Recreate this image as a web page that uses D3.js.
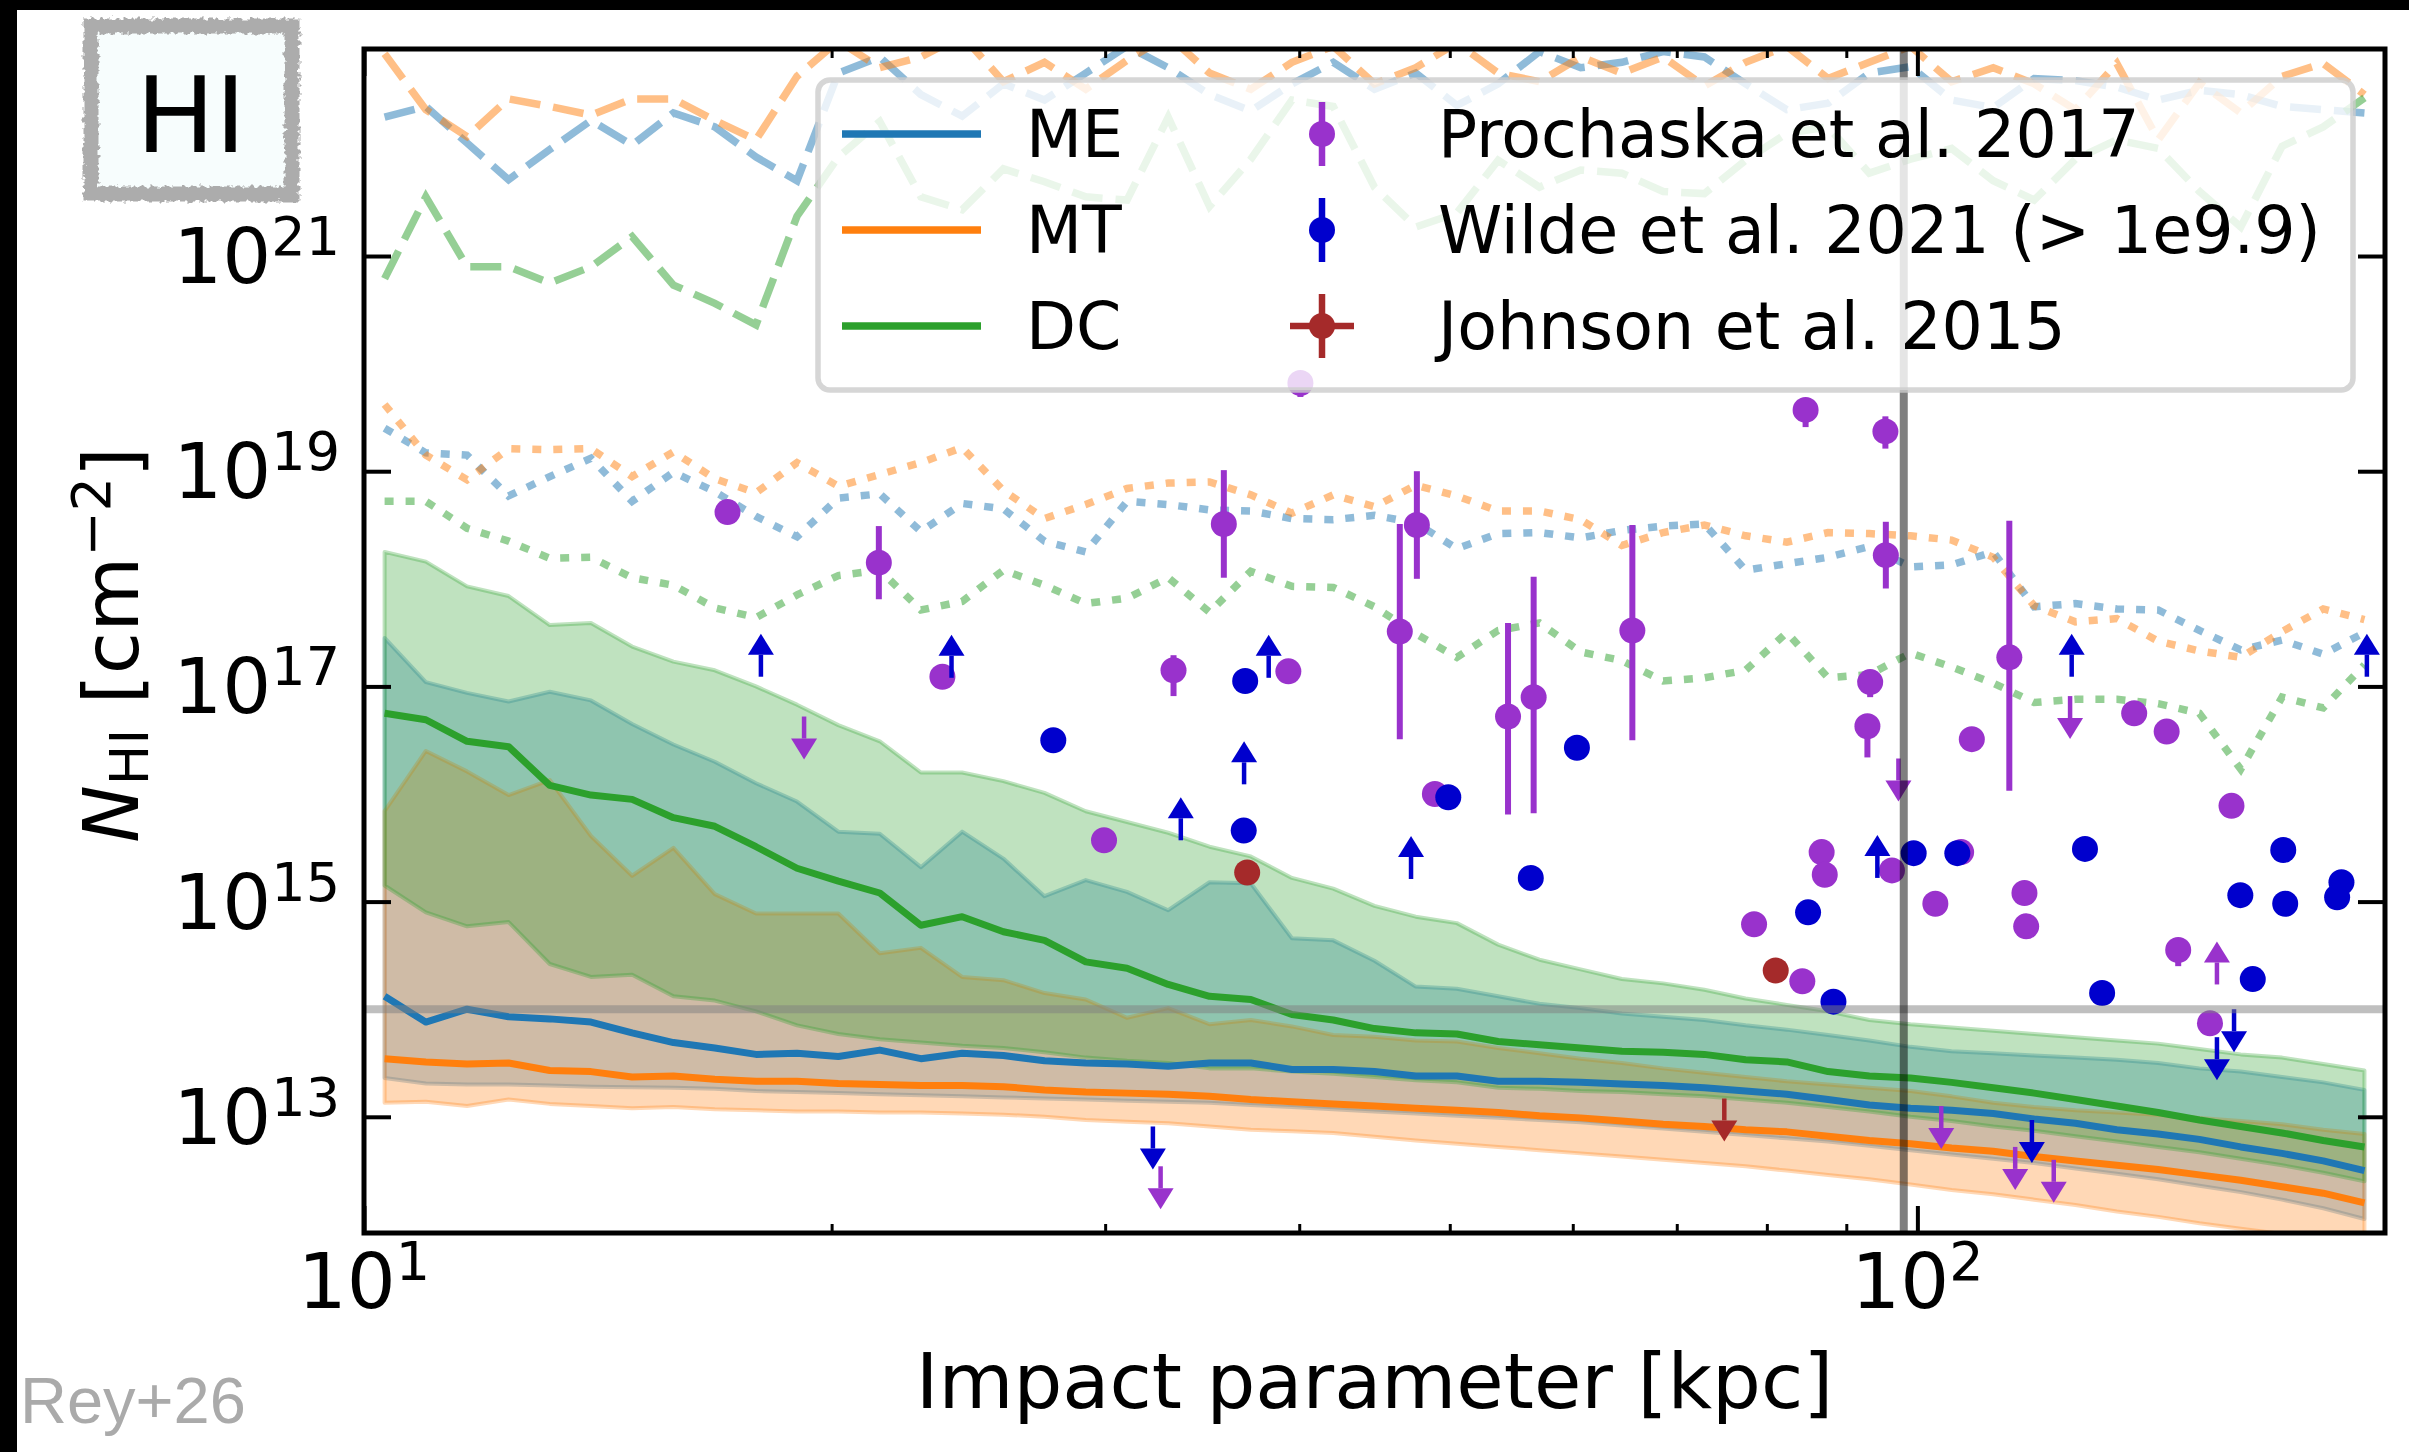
<!DOCTYPE html>
<html>
<head>
<meta charset="utf-8">
<script src="https://cdn.jsdelivr.net/npm/d3@7"></script>
<style>
  html, body { margin: 0; padding: 0; background: #fff; }
  svg { display: block; }
  text { font-family: "DejaVu Sans", sans-serif; }
</style>
</head>
<body>
<svg id="chart" width="2409" height="1452"></svg>
<script>
// Impact parameter of each profile bin [kpc] (log-spaced bin centres)
const impactKpc = [10.31, 10.96, 11.65, 12.39, 13.17, 14.00, 14.88, 15.82, 16.82, 17.88,
  19.00, 20.20, 21.48, 22.83, 24.27, 25.80, 27.42, 29.15, 30.99, 32.94,
  35.02, 37.23, 39.57, 42.07, 44.72, 47.54, 50.53, 53.72, 57.11, 60.71,
  64.53, 68.60, 72.92, 77.52, 82.40, 87.60, 93.12, 98.99, 105.2, 111.9,
  118.9, 126.4, 134.4, 142.9, 151.9, 161.5, 171.7, 182.5, 194.0];

// log10 N_HI [cm^-2] profiles for each model
const meMedian = [14.12, 13.88, 14.00, 13.93, 13.91, 13.88, 13.78, 13.69, 13.64, 13.58,
  13.59, 13.56, 13.62, 13.54, 13.59, 13.57, 13.52, 13.50, 13.49, 13.47,
  13.50, 13.50, 13.44, 13.44, 13.42, 13.38, 13.38, 13.33, 13.33, 13.32,
  13.305, 13.29, 13.27, 13.24, 13.21, 13.16, 13.11, 13.08, 13.06, 13.03,
  12.98, 12.94, 12.88, 12.84, 12.79, 12.72, 12.66, 12.59, 12.50];
const meLow = [13.36, 13.31, 13.30, 13.30, 13.29, 13.28, 13.275, 13.27, 13.26, 13.24,
  13.23, 13.22, 13.21, 13.20, 13.19, 13.18, 13.17, 13.16, 13.15, 13.14,
  13.13, 13.11, 13.09, 13.07, 13.05, 13.03, 13.01, 12.99, 12.97, 12.95,
  12.92, 12.89, 12.86, 12.83, 12.80, 12.77, 12.73, 12.69, 12.65, 12.61,
  12.57, 12.52, 12.47, 12.42, 12.36, 12.30, 12.23, 12.15, 12.05];
const meHigh = [17.45, 17.04, 16.94, 16.86, 16.95, 16.87, 16.65, 16.46, 16.30, 16.10,
  15.93, 15.65, 15.63, 15.32, 15.65, 15.40, 15.05, 15.20, 15.09, 14.92,
  15.18, 15.17, 14.66, 14.64, 14.45, 14.21, 14.19, 14.12, 14.05, 14.01,
  13.96, 13.93, 13.90, 13.85, 13.81, 13.76, 13.71, 13.65, 13.61, 13.59,
  13.57, 13.55, 13.53, 13.50, 13.45, 13.42, 13.37, 13.32, 13.25];
const meDotted = [19.40, 19.17, 19.15, 18.77, 18.95, 19.12, 18.72, 18.99, 18.81, 18.58,
  18.39, 18.75, 18.79, 18.44, 18.70, 18.65, 18.35, 18.25, 18.72, 18.69,
  18.64, 18.63, 18.56, 18.55, 18.59, 18.52, 18.28, 18.42, 18.43, 18.38,
  18.45, 18.49, 18.51, 18.08, 18.14, 18.20, 18.30, 18.11, 18.13, 18.25,
  17.74, 17.77, 17.72, 17.71, 17.52, 17.34, 17.43, 17.30, 17.50];
const meDashed = [22.29, 22.39, 22.05, 21.71, 21.99, 22.26, 22.03, 22.33, 22.20, 21.92,
  21.70, 22.70, 22.85, 22.50, 22.30, 22.60, 22.45, 22.70, 22.95, 22.75,
  22.50, 22.35, 22.60, 22.80, 22.55, 22.70, 22.40, 22.60, 22.90, 22.75,
  22.80, 22.90, 22.85, 22.60, 22.36, 22.42, 22.70, 22.76, 22.45, 22.38,
  22.65, 22.63, 22.57, 22.45, 22.54, 22.50, 22.39, 22.36, 22.33];

const mtMedian = [13.54, 13.51, 13.49, 13.50, 13.43, 13.42, 13.37, 13.38, 13.35, 13.33,
  13.33, 13.31, 13.30, 13.29, 13.29, 13.28, 13.25, 13.23, 13.22, 13.21,
  13.19, 13.16, 13.14, 13.12, 13.10, 13.08, 13.06, 13.04, 13.01, 12.99,
  12.96, 12.93, 12.91, 12.88, 12.86, 12.82, 12.78, 12.75, 12.71, 12.68,
  12.63, 12.59, 12.55, 12.51, 12.46, 12.41, 12.35, 12.29, 12.20];
const mtLow = [13.13, 13.14, 13.10, 13.16, 13.12, 13.10, 13.08, 13.09, 13.07, 13.06,
  13.05, 13.05, 13.04, 13.04, 13.03, 13.02, 13.00, 12.97, 12.955, 12.94,
  12.91, 12.88, 12.865, 12.85, 12.815, 12.78, 12.75, 12.72, 12.69, 12.66,
  12.63, 12.60, 12.57, 12.54, 12.50, 12.46, 12.42, 12.37, 12.32, 12.28,
  12.23, 12.18, 12.12, 12.07, 12.01, 11.96, 11.91, 11.86, 11.80];
const mtHigh = [15.84, 16.40, 16.21, 15.99, 16.13, 15.61, 15.24, 15.50, 15.07, 14.89,
  14.89, 14.89, 14.52, 14.57, 14.30, 14.27, 14.15, 14.09, 13.92, 14.01,
  13.86, 13.90, 13.84, 13.76, 13.745, 13.71, 13.70, 13.64, 13.59, 13.54,
  13.50, 13.45, 13.41, 13.37, 13.33, 13.30, 13.27, 13.24, 13.19, 13.13,
  13.09, 13.06, 13.04, 13.02, 12.99, 12.96, 12.93, 12.88, 12.84];
const mtDotted = [19.62, 19.15, 18.92, 19.21, 19.20, 19.21, 18.95, 19.18, 18.93, 18.80,
  19.08, 18.86, 18.97, 19.08, 19.22, 18.82, 18.56, 18.69, 18.84, 18.89,
  18.90, 18.78, 18.61, 18.78, 18.67, 18.87, 18.77, 18.63, 18.63, 18.55,
  18.31, 18.43, 18.50, 18.40, 18.34, 18.43, 18.42, 18.40, 18.36, 18.20,
  17.75, 17.60, 17.63, 17.42, 17.33, 17.27, 17.51, 17.72, 17.62];
const mtDashed = [22.88, 22.36, 22.11, 22.46, 22.39, 22.31, 22.46, 22.46, 22.26, 22.08,
  22.67, 23.00, 22.75, 22.85, 23.05, 22.62, 22.80, 22.55, 22.82, 23.05,
  22.70, 22.55, 22.80, 22.95, 22.60, 22.75, 22.98, 22.70, 22.62, 22.85,
  22.70, 22.85, 22.58, 22.80, 22.95, 22.65, 22.80, 22.95, 22.62, 22.75,
  22.60, 22.36, 22.79, 22.08, 22.61, 22.33, 22.67, 22.79, 22.50];

const dcMedian = [16.75, 16.69, 16.49, 16.44, 16.08, 15.99, 15.95, 15.78, 15.70, 15.51,
  15.31, 15.19, 15.08, 14.78, 14.86, 14.72, 14.64, 14.44, 14.38, 14.23,
  14.12, 14.09, 13.95, 13.90, 13.82, 13.78, 13.77, 13.70, 13.67, 13.64,
  13.61, 13.60, 13.58, 13.53, 13.51, 13.42, 13.38, 13.36, 13.32, 13.27,
  13.22, 13.16, 13.10, 13.04, 12.97, 12.91, 12.85, 12.78, 12.72];
const dcLow = [15.15, 14.90, 14.77, 14.81, 14.42, 14.30, 14.32, 14.12, 14.08, 13.98,
  13.85, 13.77, 13.72, 13.69, 13.66, 13.64, 13.60, 13.55, 13.52, 13.50,
  13.45, 13.45, 13.42, 13.40, 13.37, 13.34, 13.32, 13.27, 13.26, 13.24,
  13.23, 13.21, 13.19, 13.16, 13.13, 13.09, 13.05, 13.00, 12.96, 12.91,
  12.87, 12.82, 12.77, 12.72, 12.67, 12.61, 12.55, 12.48, 12.40];
const dcHigh = [18.25, 18.16, 17.93, 17.84, 17.57, 17.59, 17.37, 17.23, 17.15, 17.00,
  16.83, 16.64, 16.49, 16.20, 16.20, 16.12, 16.01, 15.84, 15.74, 15.64,
  15.51, 15.42, 15.22, 15.12, 14.96, 14.86, 14.80, 14.60, 14.46, 14.37,
  14.28, 14.24, 14.18, 14.10, 14.04, 13.98, 13.90, 13.86, 13.83, 13.80,
  13.77, 13.74, 13.71, 13.68, 13.63, 13.58, 13.55, 13.49, 13.43];
const dcDotted = [18.72, 18.72, 18.47, 18.35, 18.19, 18.20, 18.01, 17.94, 17.73, 17.64,
  17.85, 18.03, 18.08, 17.71, 17.79, 18.08, 17.94, 17.77, 17.82, 18.01,
  17.69, 18.07, 17.93, 17.92, 17.74, 17.49, 17.27, 17.52, 17.59, 17.32,
  17.24, 17.05, 17.08, 17.15, 17.50, 17.08, 17.11, 17.31, 17.18, 17.03,
  16.85, 16.88, 16.88, 16.84, 16.75, 16.23, 16.90, 16.80, 17.20];
const dcDashed = [20.79, 21.55, 20.90, 20.90, 20.75, 20.90, 21.18, 20.73, 20.56, 20.36,
  21.37, 21.92, 22.25, 21.55, 21.43, 21.81, 21.69, 21.55, 21.52, 22.29,
  21.46, 21.90, 22.45, 22.39, 21.64, 21.27, 21.40, 21.89, 21.64, 21.80,
  21.77, 21.60, 21.58, 21.89, 22.14, 22.20, 21.77, 21.90, 22.00, 21.70,
  21.52, 21.90, 22.08, 22.00, 21.60, 21.27, 22.02, 22.20, 22.47];

// Observations: impact parameter [kpc], log10 N_HI, asymmetric errors [dex]
const prochaskaB = [17.14, 21.45, 23.57, 29.95, 33.20, 35.77, 39.36, 40.07, 47.62, 46.43,
  48.91, 54.51, 56.62, 65.54, 84.73, 95.37, 95.43, 114.6, 93.24, 92.86,
  108.4, 137.9, 144.7, 159.3, 86.77, 87.17, 96.30, 106.7, 102.7, 117.2,
  117.5, 78.50, 84.32, 147.2, 154.3];
const prochaskaLogN = [18.62, 18.15, 17.09, 15.57, 17.15, 18.51, 17.14, 19.82, 18.50, 17.51,
  16.00, 16.72, 16.90, 17.52, 19.57, 19.37, 18.22, 17.27, 17.04, 16.63,
  16.51, 16.75, 16.58, 15.89, 15.46, 15.25, 15.29, 15.46, 14.98, 15.08,
  14.77, 14.79, 14.26, 14.55, 13.87];
const prochaskaErrLo = [0, 0.34, 0, 0, 0.24, 0.50, 0, 0.13, 0.50, 1.00,
  0, 0.91, 1.08, 1.02, 0.16, 0.16, 0.31, 1.24, 0.14, 0.29,
  0, 0, 0, 0, 0, 0, 0, 0, 0, 0,
  0, 0, 0, 0.15, 0];
const prochaskaErrHi = [0, 0.34, 0, 0, 0.14, 0.50, 0, 0, 0.50, 1.00,
  0, 0.87, 1.12, 0.98, 0, 0.14, 0.31, 1.27, 0, 0,
  0, 0, 0, 0, 0, 0, 0, 0, 0, 0,
  0, 0, 0, 0, 0];
const prochaskaUpperB = [19.20, 32.57, 97.23, 125.4, 103.6, 115.6, 122.4];
const prochaskaUpperLogN = [16.72, 12.54, 16.33, 16.91, 13.10, 12.72, 12.60];
const prochaskaLowerB = [155.9];
const prochaskaLowerLogN = [14.23];

const wildeB = [27.78, 36.92, 36.84, 49.89, 60.37, 56.38, 99.45, 106.1, 128.2, 172.0,
  161.4, 172.5, 187.5, 186.3, 85.04, 88.30, 131.5, 164.4];
const wildeLogN = [16.50, 17.05, 15.66, 15.97, 16.43, 15.22, 15.45, 15.45, 15.49, 15.48,
  15.06, 14.98, 15.18, 15.04, 14.90, 14.07, 14.15, 14.28];
const wildeLowerB = [18.01, 23.89, 38.23, 36.86, 33.56, 47.21, 94.24, 125.7, 194.7];
const wildeLowerLogN = [17.09, 17.08, 17.08, 16.09, 15.57, 15.21, 15.22, 17.09, 17.09];
const wildeUpperB = [32.20, 118.5, 159.9, 155.9];
const wildeUpperLogN = [12.91, 12.97, 14.00, 13.74];

const johnsonB = [37.03, 81.06];
const johnsonLogN = [15.27, 14.36];
const johnsonUpperB = [75.11];
const johnsonUpperLogN = [13.17];

// Reference levels
const refLogN = 14.0;      // horizontal reference column density
const refImpactKpc = 98;   // vertical reference radius

// Axis ticks
const xMajorTicks = [10, 100];
const xMinorTicks = [20, 30, 40, 50, 60, 70, 80, 90];
const yTickExponents = [13, 15, 17, 19, 21];

// ---------------------------------------------------------------
const W = 2409, H = 1452;
const plot = { x0: 364, x1: 2385, y0: 49, y1: 1233 };
const svg = d3.select("#chart");

const x = d3.scaleLog().domain([10, 200]).range([plot.x0, plot.x1]);
const y = d3.scaleLog().domain([Math.pow(10, 11.92), Math.pow(10, 22.924)]).range([plot.y1, plot.y0]);
const yl = v => y(Math.pow(10, v));

svg.append("rect").attr("width", W).attr("height", H).attr("fill", "#fff");

const defs = svg.append("defs");
defs.append("clipPath").attr("id", "plotClip")
  .append("rect").attr("x", plot.x0).attr("y", plot.y0)
  .attr("width", plot.x1 - plot.x0).attr("height", plot.y1 - plot.y0);
const rough = defs.append("filter").attr("id", "rough")
  .attr("x", "-20%").attr("y", "-20%").attr("width", "140%").attr("height", "140%");
rough.append("feTurbulence").attr("type", "fractalNoise").attr("baseFrequency", "0.22")
  .attr("numOctaves", 2).attr("seed", 4).attr("result", "noise");
rough.append("feDisplacementMap").attr("in", "SourceGraphic").attr("in2", "noise")
  .attr("scale", 8).attr("xChannelSelector", "R").attr("yChannelSelector", "G");

const models = [
  { name: "ME", color: "#1f77b4", med: meMedian, lo: meLow, hi: meHigh, dot: meDotted, dash: meDashed },
  { name: "MT", color: "#ff7f0e", med: mtMedian, lo: mtLow, hi: mtHigh, dot: mtDotted, dash: mtDashed },
  { name: "DC", color: "#2ca02c", med: dcMedian, lo: dcLow, hi: dcHigh, dot: dcDotted, dash: dcDashed }
];

const area = d3.area().x(d => x(d.b)).y0(d => yl(d.lo)).y1(d => yl(d.hi));
const line = d3.line().x(d => x(d.b)).y(d => yl(d.v));
const series = arr => impactKpc.map((b, i) => ({ b: b, v: arr[i] }));

const gPlot = svg.append("g").attr("clip-path", "url(#plotClip)");

// percentile bands
models.forEach(m => {
  const rows = impactKpc.map((b, i) => ({ b: b, lo: m.lo[i], hi: m.hi[i] }));
  gPlot.append("path").datum(rows).attr("d", area)
    .attr("fill", m.color).attr("fill-opacity", 0.3)
    .attr("stroke", m.color).attr("stroke-opacity", 0.3).attr("stroke-width", 4)
    .attr("stroke-linejoin", "round");
});

// upper-tail profiles: dotted and dashed
models.forEach(m => {
  gPlot.append("path").datum(series(m.dot)).attr("d", line)
    .attr("fill", "none").attr("stroke", m.color).attr("stroke-opacity", 0.5)
    .attr("stroke-width", 7.5).attr("stroke-dasharray", "9,12");
  gPlot.append("path").datum(series(m.dash)).attr("d", line)
    .attr("fill", "none").attr("stroke", m.color).attr("stroke-opacity", 0.5)
    .attr("stroke-width", 7.5).attr("stroke-dasharray", "31,13");
});

// medians
models.forEach(m => {
  gPlot.append("path").datum(series(m.med)).attr("d", line)
    .attr("fill", "none").attr("stroke", m.color).attr("stroke-width", 7)
    .attr("stroke-linejoin", "round");
});

// observational points
const R = 13;
function limitArrow(g, px, py, dir, color) {
  // dir = -1: lower limit (points up); dir = +1: upper limit (points down)
  const L = 43, hh = 21, hw = 13;
  const tip = py + dir * L;
  const base = tip - dir * hh;
  g.append("line").attr("x1", px).attr("x2", px).attr("y1", py).attr("y2", base)
    .attr("stroke", color).attr("stroke-width", 4.5);
  g.append("path").attr("d", `M${px},${tip}L${px - hw},${base}L${px + hw},${base}Z`)
    .attr("fill", color);
}

const gObs = gPlot.append("g");
const purple = "#9932cc", blue = "#0000cd", brown = "#a52a2a";

prochaskaB.forEach((b, i) => {
  const px = x(b), v = prochaskaLogN[i];
  const lo = v - prochaskaErrLo[i], hi = v + prochaskaErrHi[i];
  if (prochaskaErrLo[i] > 0 || prochaskaErrHi[i] > 0) {
    gObs.append("line").attr("x1", px).attr("x2", px).attr("y1", yl(lo)).attr("y2", yl(hi))
      .attr("stroke", purple).attr("stroke-width", 6);
  }
  gObs.append("circle").attr("cx", px).attr("cy", yl(v)).attr("r", R).attr("fill", purple);
});
prochaskaUpperB.forEach((b, i) => limitArrow(gObs, x(b), yl(prochaskaUpperLogN[i]), 1, purple));
prochaskaLowerB.forEach((b, i) => limitArrow(gObs, x(b), yl(prochaskaLowerLogN[i]), -1, purple));

wildeB.forEach((b, i) => {
  gObs.append("circle").attr("cx", x(b)).attr("cy", yl(wildeLogN[i])).attr("r", R).attr("fill", blue);
});
wildeLowerB.forEach((b, i) => limitArrow(gObs, x(b), yl(wildeLowerLogN[i]), -1, blue));
wildeUpperB.forEach((b, i) => limitArrow(gObs, x(b), yl(wildeUpperLogN[i]), 1, blue));

johnsonB.forEach((b, i) => {
  gObs.append("circle").attr("cx", x(b)).attr("cy", yl(johnsonLogN[i])).attr("r", R).attr("fill", brown);
});
johnsonUpperB.forEach((b, i) => limitArrow(gObs, x(b), yl(johnsonUpperLogN[i]), 1, brown));

// reference lines
gPlot.append("line").attr("x1", plot.x0).attr("x2", plot.x1)
  .attr("y1", yl(refLogN)).attr("y2", yl(refLogN))
  .attr("stroke", "#808080").attr("stroke-opacity", 0.5).attr("stroke-width", 8);
gPlot.append("line").attr("x1", x(refImpactKpc)).attr("x2", x(refImpactKpc))
  .attr("y1", plot.y0).attr("y2", plot.y1)
  .attr("stroke", "#000").attr("stroke-opacity", 0.5).attr("stroke-width", 8);

// axes (inward ticks on all four sides)
function styleAxis(g, w) {
  g.select(".domain").remove();
  g.selectAll(".tick line").attr("stroke", "#000").attr("stroke-width", w);
  g.selectAll(".tick text").remove();
}
svg.append("g").attr("transform", `translate(0,${plot.y1})`)
  .call(d3.axisBottom(x).tickValues(xMajorTicks).tickSize(-27)).call(g => styleAxis(g, 4));
svg.append("g").attr("transform", `translate(0,${plot.y1})`)
  .call(d3.axisBottom(x).tickValues(xMinorTicks).tickSize(-9)).call(g => styleAxis(g, 3));
svg.append("g").attr("transform", `translate(0,${plot.y0})`)
  .call(d3.axisTop(x).tickValues(xMajorTicks).tickSize(-27)).call(g => styleAxis(g, 4));
svg.append("g").attr("transform", `translate(0,${plot.y0})`)
  .call(d3.axisTop(x).tickValues(xMinorTicks).tickSize(-9)).call(g => styleAxis(g, 3));
const yTickVals = yTickExponents.map(e => Math.pow(10, e));
svg.append("g").attr("transform", `translate(${plot.x0},0)`)
  .call(d3.axisLeft(y).tickValues(yTickVals).tickSize(-27)).call(g => styleAxis(g, 4));
svg.append("g").attr("transform", `translate(${plot.x1},0)`)
  .call(d3.axisRight(y).tickValues(yTickVals).tickSize(-27)).call(g => styleAxis(g, 4));

svg.append("rect").attr("x", plot.x0).attr("y", plot.y0)
  .attr("width", plot.x1 - plot.x0).attr("height", plot.y1 - plot.y0)
  .attr("fill", "none").attr("stroke", "#000").attr("stroke-width", 5);

// tick labels
yTickExponents.forEach(e => {
  const t = svg.append("text").attr("x", 340).attr("y", y(Math.pow(10, e)) + 27)
    .attr("text-anchor", "end").attr("font-size", 77).attr("fill", "#000");
  t.append("tspan").text("10");
  t.append("tspan").attr("dy", -28).attr("font-size", 54).text(String(e));
});
xMajorTicks.forEach(v => {
  const t = svg.append("text").attr("x", x(v)).attr("y", 1308)
    .attr("text-anchor", "middle").attr("font-size", 77).attr("fill", "#000");
  t.append("tspan").text("10");
  t.append("tspan").attr("dy", -28).attr("font-size", 54).text(String(Math.round(Math.log10(v))));
});

// axis titles
svg.append("text").attr("x", (plot.x0 + plot.x1) / 2).attr("y", 1408)
  .attr("text-anchor", "middle").attr("font-size", 77).text("Impact parameter [kpc]");
const yt = svg.append("text").attr("transform", "translate(138,645) rotate(-90)")
  .attr("text-anchor", "middle").attr("font-size", 77);
yt.append("tspan").attr("font-style", "italic").text("N");
yt.append("tspan").attr("dy", 10).attr("font-size", 54).text("HI");
yt.append("tspan").attr("dy", -10).text(" [cm");
yt.append("tspan").attr("dy", -28).attr("font-size", 54).text("\u22122");
yt.append("tspan").attr("dy", 28).text("]");

// legend
const lg = svg.append("g");
lg.append("rect").attr("x", 818).attr("y", 80).attr("width", 1535).attr("height", 310)
  .attr("rx", 12).attr("fill", "#fff").attr("fill-opacity", 0.8)
  .attr("stroke", "#cccccc").attr("stroke-opacity", 0.8).attr("stroke-width", 5.5);
const rowsY = [134, 230, 326];
models.forEach((m, i) => {
  lg.append("line").attr("x1", 842).attr("x2", 981).attr("y1", rowsY[i]).attr("y2", rowsY[i])
    .attr("stroke", m.color).attr("stroke-width", 7.5);
  lg.append("text").attr("x", 1026).attr("y", rowsY[i] + 23).attr("font-size", 65).text(m.name);
});
const obsLegend = [
  { label: "Prochaska et al. 2017", color: purple, xerr: false },
  { label: "Wilde et al. 2021 (> 1e9.9)", color: blue, xerr: false },
  { label: "Johnson et al. 2015", color: brown, xerr: true }
];
obsLegend.forEach((o, i) => {
  const cy = rowsY[i], cx = 1322;
  lg.append("line").attr("x1", cx).attr("x2", cx).attr("y1", cy - 32).attr("y2", cy + 32)
    .attr("stroke", o.color).attr("stroke-width", 6.5);
  if (o.xerr) {
    lg.append("line").attr("x1", cx - 32).attr("x2", cx + 32).attr("y1", cy).attr("y2", cy)
      .attr("stroke", o.color).attr("stroke-width", 6.5);
  }
  lg.append("circle").attr("cx", cx).attr("cy", cy).attr("r", R).attr("fill", o.color);
  lg.append("text").attr("x", 1438).attr("y", cy + 23).attr("font-size", 65).text(o.label);
});

// species badge
svg.append("rect").attr("x", 91).attr("y", 26).attr("width", 201).attr("height", 168)
  .attr("fill", "#f7fdfd");
svg.append("rect").attr("x", 91).attr("y", 26).attr("width", 201).attr("height", 168)
  .attr("fill", "none").attr("stroke", "#acacac").attr("stroke-width", 15)
  .attr("filter", "url(#rough)");
svg.append("text").attr("x", 191).attr("y", 152).attr("text-anchor", "middle")
  .attr("font-size", 105).attr("fill", "#000").text("HI");

// credit
svg.append("text").attr("x", 20).attr("y", 1423)
  .style("font-family", "'Liberation Sans', Arial, sans-serif")
  .attr("font-size", 65).attr("fill", "#aaaaaa").text("Rey+26");

// outer frame edges
svg.append("rect").attr("x", 0).attr("y", 0).attr("width", 17).attr("height", H).attr("fill", "#000");
svg.append("rect").attr("x", 0).attr("y", 0).attr("width", W).attr("height", 10).attr("fill", "#000");
</script>
</body>
</html>
